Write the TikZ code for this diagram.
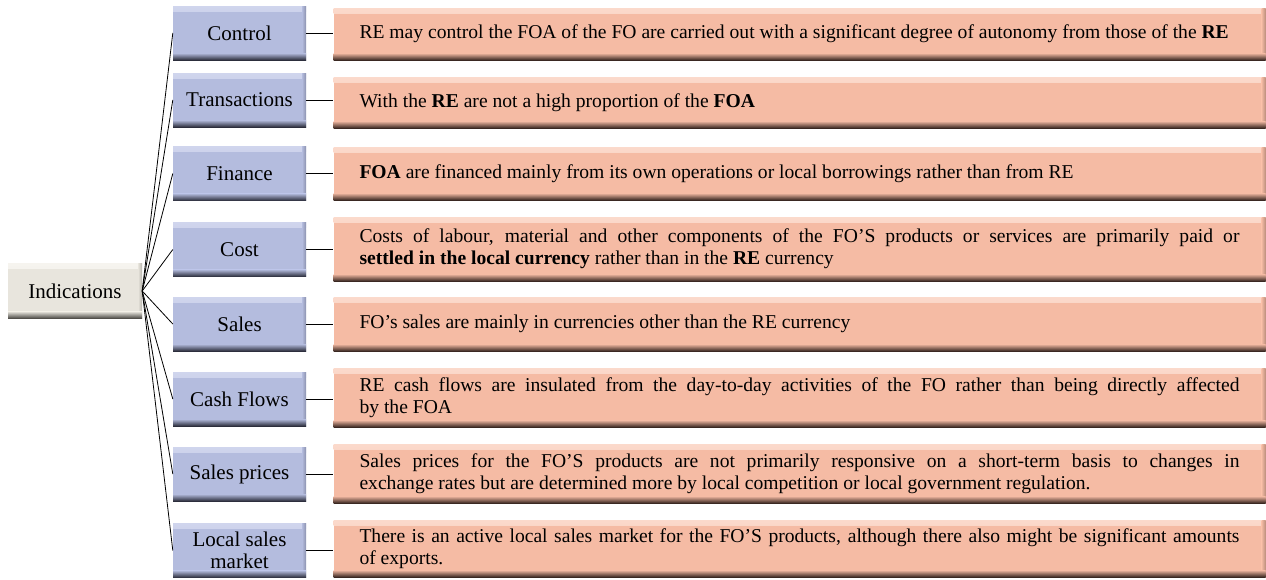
\documentclass[tikz,border=0pt]{standalone}
\usepackage{fontspec}
\setmainfont{Liberation Serif}
\definecolor{bbase}{RGB}{180,188,222}
\definecolor{blight}{RGB}{208,213,237}
\definecolor{bdark}{RGB}{44,46,60}
\definecolor{obase}{RGB}{245,187,164}
\definecolor{olight}{RGB}{251,218,204}
\definecolor{odark}{RGB}{58,40,34}
\definecolor{gbase}{RGB}{232,229,221}
\definecolor{glight}{RGB}{246,244,239}
\definecolor{gdark}{RGB}{70,68,64}
\newcommand{\cardpic}[3]{%
  \shade[top color=#2, bottom color=#1] (path picture bounding box.north west) rectangle ([yshift=-5pt]path picture bounding box.north east);
  \shade[left color=#1, right color=#1!70!#3] ([xshift=-4pt]path picture bounding box.north east) rectangle (path picture bounding box.south east);
  \shade[top color=#1, bottom color=#3] ([yshift=7pt]path picture bounding box.south west) rectangle (path picture bounding box.south east);
}
\tikzset{
  card/.style={inner sep=1pt, align=center, font=\fontsize{21}{22}\selectfont},
  bluebox/.style={card, fill=bbase, path picture={\cardpic{bbase}{blight}{bdark}}, minimum width=133pt, minimum height=54pt},
  greybox/.style={card, fill=gbase, path picture={\cardpic{gbase}{glight}{gdark}}, minimum width=134pt, minimum height=55pt},
  orangebox/.style={inner xsep=26pt, inner ysep=2pt, text width=880pt, align=justify, font=\fontsize{19.6}{22}\selectfont, fill=obase, path picture={\cardpic{obase}{olight}{odark}}, minimum width=931pt},
  link/.style={draw=black, line width=0.8pt}
}
\begin{document}
\begin{tikzpicture}[x=1pt,y=-1pt]
\useasboundingbox (0,0) rectangle (1266,579);
\node[greybox] (ind) at (75,291) {Indications};
% blue boxes
\node[bluebox] (b1) at (239.5,33) {Control};
\node[bluebox] (b2) at (239.5,100) {Transactions};
\node[bluebox] (b3) at (239.5,173.5) {Finance};
\node[bluebox] (b4) at (239.5,249.5) {Cost};
\node[bluebox] (b5) at (239.5,324) {Sales};
\node[bluebox] (b6) at (239.5,399) {Cash Flows};
\node[bluebox] (b7) at (239.5,474) {Sales prices};
\node[bluebox] (b8) at (239.5,550.5) {Local sales\\market};
% orange boxes
\node[orangebox, minimum height=52pt] (o1) at (799.5,34) {RE may control the FOA of the FO are carried out with a significant degree of autonomy from those of the \textbf{RE}};
\node[orangebox, minimum height=51pt] (o2) at (799.5,102.5) {With the \textbf{RE} are not a high proportion of the \textbf{FOA}};
\node[orangebox, minimum height=53pt] (o3) at (799.5,173.5) {\textbf{FOA} are financed mainly from its own operations or local borrowings rather than from RE};
\node[orangebox, minimum height=64pt] (o4) at (799.5,249) {Costs of labour, material and other components of the FO'S products or services are primarily paid or\linebreak \textbf{settled in the local currency} rather than in the \textbf{RE} currency};
\node[orangebox, minimum height=54pt] (o5) at (799.5,324) {FO's sales are mainly in currencies other than the RE currency};
\node[orangebox, minimum height=59pt] (o6) at (799.5,397.5) {RE cash flows are insulated from the day-to-day activities of the FO rather than being directly affected\linebreak by the FOA};
\node[orangebox, minimum height=59pt] (o7) at (799.5,473.5) {Sales prices for the FO'S products are not primarily responsive on a short-term basis to changes in\linebreak exchange rates but are determined more by local competition or local government regulation.};
\node[orangebox, minimum height=57pt] (o8) at (799.5,548.5) {There is an active local sales market for the FO'S products, although there also might be significant amounts\linebreak of exports.};
% connectors
\foreach \i in {1,...,8}{
  \draw[link] (ind.east) -- (b\i.west);
  \draw[link] (b\i.east) -- (b\i.east -| o\i.west);
}
\end{tikzpicture}
\end{document}
